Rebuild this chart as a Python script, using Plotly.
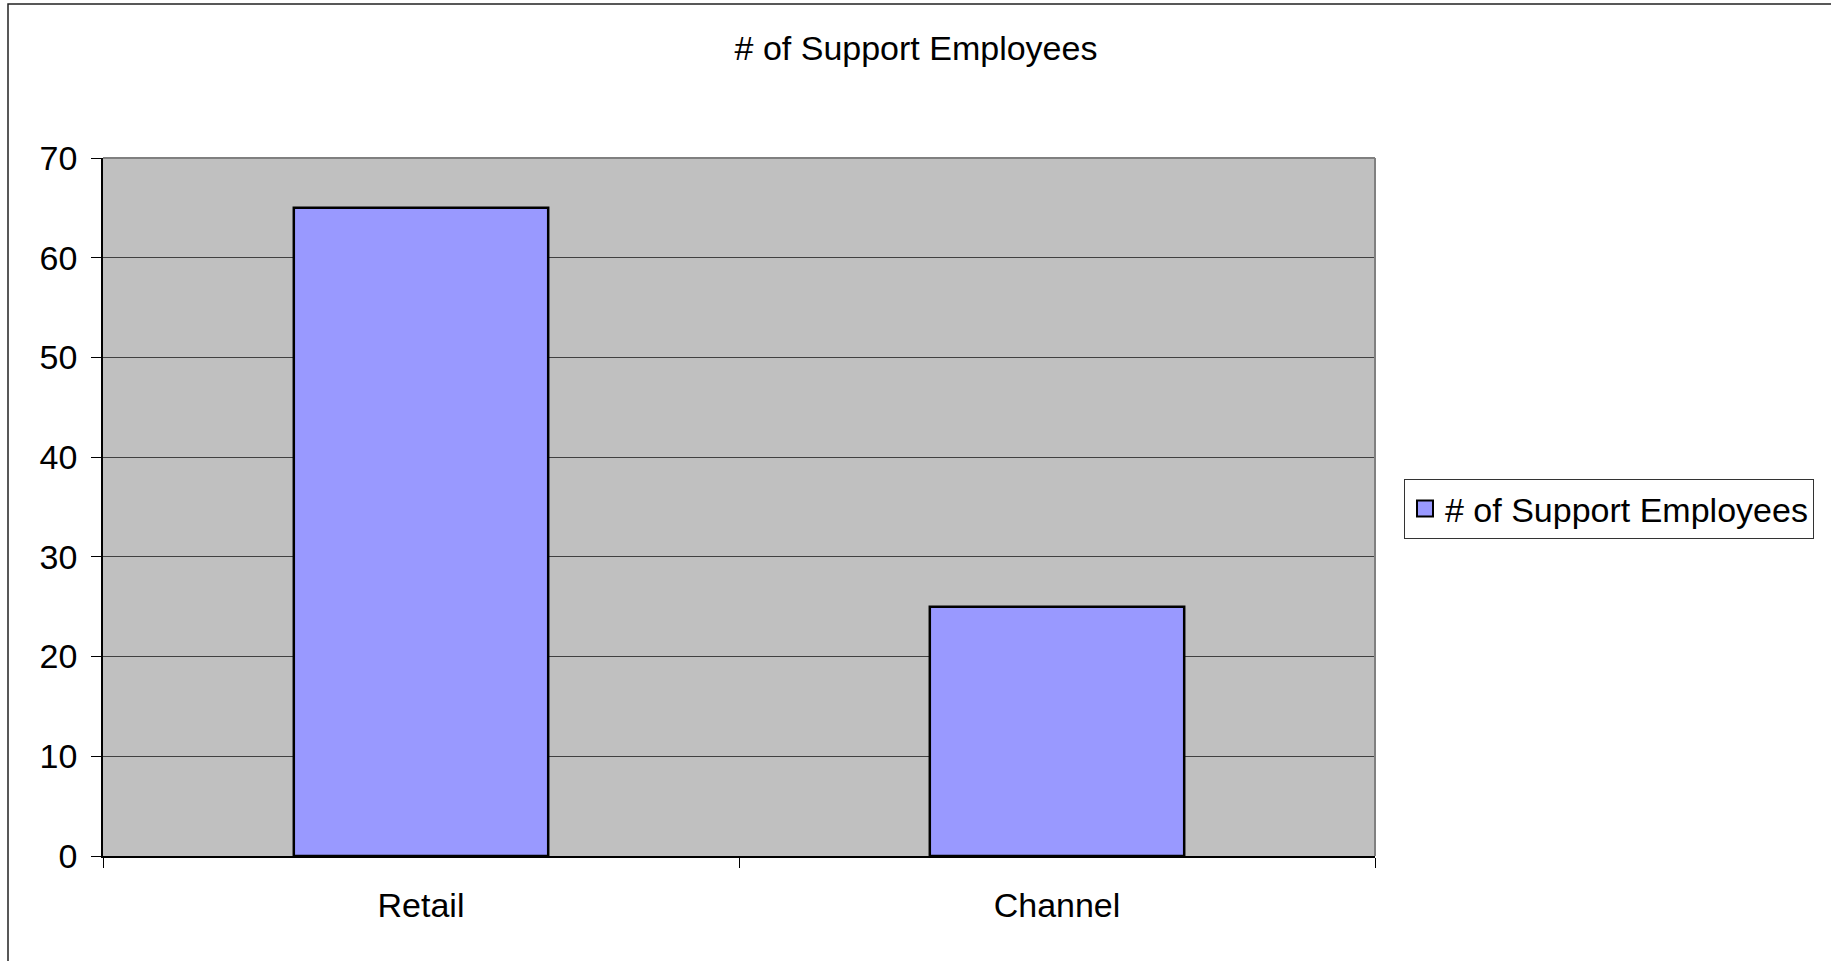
import plotly.graph_objects as go

categories = ["Retail", "Channel"]
values = [65, 25]
series_name = "# of Support Employees"
title_text = "# of Support Employees"
y_ticks = [0, 10, 20, 30, 40, 50, 60, 70]

W, H = 1831, 961
L, R, T, B = 103, 456, 158, 105
pw, ph = W - L - R, H - T - B

FONT = "Liberation Sans, Arial, sans-serif"
FS = 34
BAR_COLOR = "#9999FF"

fig = go.Figure()
fig.add_trace(go.Bar(
    x=categories, y=values, name=series_name, width=0.4,
    marker=dict(color=BAR_COLOR, line=dict(color="black", width=2.5)),
    showlegend=False,
))
# legend entry (square swatch like the original)
fig.add_trace(go.Scatter(
    x=[None], y=[None], mode="markers", name=series_name,
    marker=dict(symbol="square", size=16, color=BAR_COLOR,
                line=dict(color="black", width=2)),
    showlegend=True, hoverinfo="skip",
))

def px_x(px):
    return (px - L) / pw

def px_y(py):
    return (H - B - py) / ph

fig.update_layout(
    width=W, height=H,
    margin=dict(l=L, r=R, t=T, b=B, pad=0),
    paper_bgcolor="white",
    plot_bgcolor="#C0C0C0",
    font=dict(family=FONT, size=FS, color="black"),
    title=dict(text=title_text, x=916 / W, xanchor="center", xref="container",
               y=1 - 48 / H, yanchor="middle", yref="container",
               font=dict(family=FONT, size=FS, color="black")),
    showlegend=True,
    legend=dict(x=px_x(1404), y=px_y(479), xanchor="left", yanchor="top",
                bordercolor="#333333", borderwidth=1, bgcolor="white",
                itemwidth=30,
                font=dict(family=FONT, size=FS, color="black")),
    bargap=0.6,
)
fig.update_xaxes(
    type="category", tickson="boundaries", ticks="outside", ticklen=10,
    tickcolor="black", tickwidth=1, showline=True, linecolor="black", linewidth=1.5,
    showgrid=False, tickfont=dict(family=FONT, size=FS, color="black"),
    ticklabelstandoff=18, range=[-0.5, 1.5],
)
fig.update_yaxes(
    range=[0, 70], tickvals=y_ticks, ticks="outside", ticklen=10, tickcolor="black",
    tickwidth=1, showline=True, linecolor="black", linewidth=1.5,
    showgrid=True, gridcolor="#404040", gridwidth=1, zeroline=False,
    tickfont=dict(family=FONT, size=FS, color="black"), ticklabelstandoff=7,
)
# plot-area border (top and right)
fig.add_shape(type="line", xref="paper", yref="paper", x0=0, x1=1, y0=1, y1=1,
              line=dict(color="#808080", width=2))
fig.add_shape(type="line", xref="paper", yref="paper", x0=1, x1=1, y0=0, y1=1,
              line=dict(color="#808080", width=2))
# outer chart border
fig.add_shape(type="rect", xref="paper", yref="paper",
              x0=px_x(8), x1=px_x(W + 50), y0=px_y(H + 50), y1=px_y(4),
              line=dict(color="#222222", width=1.5), fillcolor="rgba(0,0,0,0)")

fig.write_html("out.html")
